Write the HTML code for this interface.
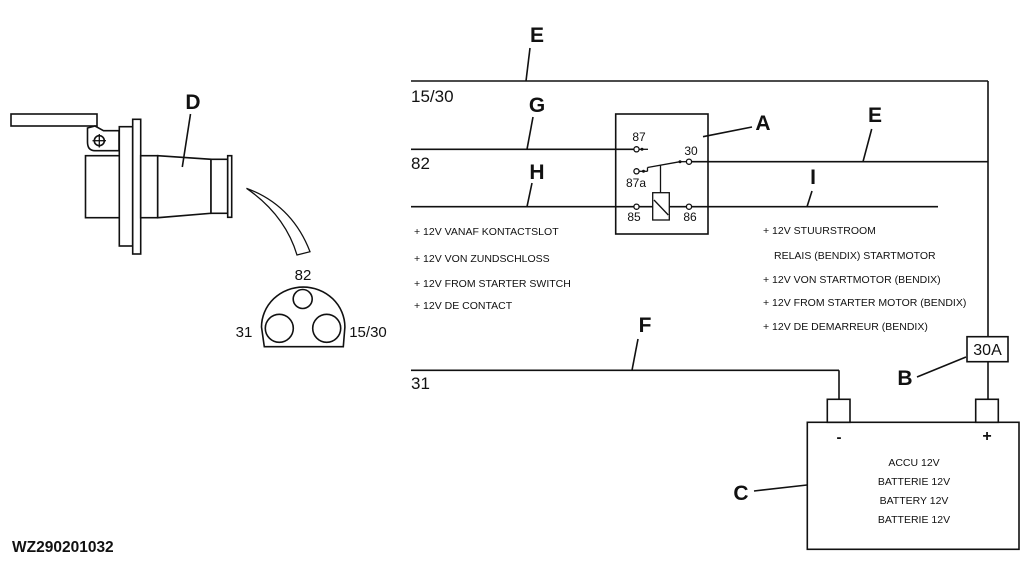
<!DOCTYPE html>
<html>
<head>
<meta charset="utf-8">
<style>
html,body{margin:0;padding:0;background:#fff;}
svg{display:block;}
text{font-family:"Liberation Sans",Arial,sans-serif;fill:#111;}
.lb{font-weight:bold;font-size:21px;}
.sm{font-size:10.5px;}
.md{font-size:12px;}
</style>
</head>
<body>
<svg width="1024" height="563" viewBox="0 0 1024 563" xmlns="http://www.w3.org/2000/svg">
<rect width="1024" height="563" fill="#fff"/>
<g stroke="#111" stroke-width="1.6" fill="none">
  <!-- connector drawing -->
  <rect x="11" y="114" width="86" height="12" fill="#fff"/>
  <path d="M87.5,128 L95,126 L103.5,130.7 L119,130.7 L119,150.7 L95,150.7 Q87.5,150.7 87.5,142 Z" fill="#fff"/>
  <circle cx="99.3" cy="140.7" r="5"/>
  <line x1="92.5" y1="140.7" x2="106" y2="140.7" stroke-width="1.3"/>
  <line x1="99.3" y1="134" x2="99.3" y2="147.5" stroke-width="1.3"/>
  <rect x="85.5" y="155.7" width="34" height="62" fill="#fff"/>
  <rect x="119.3" y="126.7" width="13.4" height="119.3" fill="#fff"/>
  <rect x="132.7" y="119.3" width="8" height="134.7" fill="#fff"/>
  <rect x="140.7" y="155.7" width="17" height="62" fill="#fff"/>
  <path d="M157.7,155.7 L211,159.3 L211,213.3 L157.7,217.7 Z" fill="#fff"/>
  <rect x="211" y="159.3" width="16.7" height="54" fill="#fff"/>
  <rect x="227.7" y="155.7" width="4" height="61.6" fill="#fff"/>
  <line x1="190.5" y1="114" x2="182.3" y2="167"/>
  <!-- curved arrow -->
  <path d="M246.5,188.3 Q292,205 310,251.7 L297,255 Q285,215 246.5,188.3 Z" stroke-width="1.3"/>
  <!-- plug face -->
  <path d="M264.3,346.7 L261.5,327 A41.7,40 0 0 1 344.9,327 L343.3,346.7 Z"/>
  <circle cx="302.7" cy="299" r="9.5"/>
  <circle cx="279.3" cy="328.3" r="14"/>
  <circle cx="326.7" cy="328.3" r="14"/>

  <!-- main wiring -->
  <line x1="411" y1="81" x2="988" y2="81"/>
  <line x1="988" y1="81" x2="988" y2="336.7"/>
  <line x1="988" y1="361.7" x2="988" y2="399.3"/>
  <rect x="967" y="336.7" width="41" height="25"/>
  <line x1="411" y1="149.3" x2="633.5" y2="149.3"/>
  <line x1="411" y1="206.7" x2="938" y2="206.7"/>
  <line x1="691.5" y1="161.7" x2="988" y2="161.7"/>
  <line x1="411" y1="370.3" x2="839" y2="370.3"/>
  <line x1="839" y1="370.3" x2="839" y2="399.3"/>

  <!-- relay -->
  <rect x="615.7" y="114" width="92.3" height="120"/>
  <line x1="639" y1="149.3" x2="648" y2="149.3" stroke-width="1.3"/>
  <line x1="639" y1="171.3" x2="647.5" y2="171.3" stroke-width="1.3"/>
  <line x1="647.5" y1="171.3" x2="647.5" y2="167.5" stroke-width="1.3"/>
  <line x1="647.5" y1="167.5" x2="680" y2="161.7" stroke-width="1.3"/>
  <line x1="680" y1="161.7" x2="686" y2="161.7" stroke-width="1.3"/>
  <line x1="660.5" y1="165.5" x2="660.5" y2="192.7" stroke-width="1.3"/>
  <rect x="652.7" y="192.7" width="16.6" height="27.3" fill="#fff" stroke-width="1.3"/>
  <line x1="654" y1="200" x2="668.3" y2="215" stroke-width="1.3"/>
  <g fill="#fff" stroke-width="1.3">
    <circle cx="636.5" cy="149.3" r="2.6"/>
    <circle cx="636.5" cy="171.3" r="2.6"/>
    <circle cx="689" cy="161.7" r="2.6"/>
    <circle cx="636.5" cy="206.7" r="2.6"/>
    <circle cx="689" cy="206.7" r="2.6"/>
  </g>

  <!-- leaders -->
  <line x1="530" y1="48" x2="526" y2="81"/>
  <line x1="533" y1="117" x2="527" y2="149.3"/>
  <line x1="532" y1="183" x2="527" y2="206.7"/>
  <line x1="703" y1="136.7" x2="752" y2="127"/>
  <line x1="871.7" y1="129" x2="863" y2="161.7"/>
  <line x1="812" y1="191" x2="807" y2="206.7"/>
  <line x1="638" y1="339" x2="632" y2="370.3"/>
  <line x1="917" y1="377" x2="966" y2="357"/>
  <line x1="754" y1="491" x2="807" y2="485"/>

  <!-- battery -->
  <rect x="827.3" y="399.3" width="22.7" height="23" fill="#fff"/>
  <rect x="975.7" y="399.3" width="22.6" height="23" fill="#fff"/>
  <rect x="807.3" y="422.3" width="211.7" height="127"/>
</g>
<g fill="#111">
  <circle cx="642" cy="149.3" r="1.5"/>
  <circle cx="643.5" cy="171.3" r="1.5"/>
  <circle cx="680" cy="161.7" r="1.5"/>
</g>

<!-- letter labels -->
<text class="lb" x="537" y="42" text-anchor="middle">E</text>
<text class="lb" x="537" y="112" text-anchor="middle">G</text>
<text class="lb" x="537" y="179" text-anchor="middle">H</text>
<text class="lb" x="763" y="130" text-anchor="middle">A</text>
<text class="lb" x="875" y="122" text-anchor="middle">E</text>
<text class="lb" x="813" y="184" text-anchor="middle">I</text>
<text class="lb" x="645" y="332" text-anchor="middle">F</text>
<text class="lb" x="905" y="385" text-anchor="middle">B</text>
<text class="lb" x="741" y="500" text-anchor="middle">C</text>
<text class="lb" x="193" y="109" text-anchor="middle">D</text>

<!-- wire labels -->
<text x="411" y="102" font-size="17">15/30</text>
<text x="411" y="169" font-size="17">82</text>
<text x="411" y="389" font-size="17">31</text>

<!-- connector labels -->
<text x="303" y="280" font-size="15" text-anchor="middle">82</text>
<text x="244" y="337" font-size="15" text-anchor="middle">31</text>
<text x="368" y="337" font-size="15" text-anchor="middle">15/30</text>

<!-- relay labels -->
<text class="md" x="639" y="141" text-anchor="middle">87</text>
<text class="md" x="691" y="155" text-anchor="middle">30</text>
<text class="md" x="636" y="187" text-anchor="middle">87a</text>
<text class="md" x="634" y="221" text-anchor="middle">85</text>
<text class="md" x="690" y="221" text-anchor="middle">86</text>

<!-- 30A -->
<text x="987.5" y="355" font-size="16" text-anchor="middle">30A</text>

<!-- left list -->
<text class="sm" x="414" y="235">+ 12V VANAF KONTACTSLOT</text>
<text class="sm" x="414" y="262">+ 12V VON ZUNDSCHLOSS</text>
<text class="sm" x="414" y="287">+ 12V FROM STARTER SWITCH</text>
<text class="sm" x="414" y="309">+ 12V DE CONTACT</text>

<!-- right list -->
<text class="sm" x="763" y="234">+ 12V STUURSTROOM</text>
<text class="sm" x="774" y="259">RELAIS (BENDIX) STARTMOTOR</text>
<text class="sm" x="763" y="283">+ 12V VON STARTMOTOR (BENDIX)</text>
<text class="sm" x="763" y="306">+ 12V FROM STARTER MOTOR (BENDIX)</text>
<text class="sm" x="763" y="330">+ 12V DE DEMARREUR (BENDIX)</text>

<!-- battery -->
<text x="839" y="442" font-size="15" font-weight="bold" text-anchor="middle">-</text>
<text x="987" y="441" font-size="16" font-weight="bold" text-anchor="middle">+</text>
<text class="sm" x="914" y="466" text-anchor="middle">ACCU 12V</text>
<text class="sm" x="914" y="485" text-anchor="middle">BATTERIE 12V</text>
<text class="sm" x="914" y="504" text-anchor="middle">BATTERY 12V</text>
<text class="sm" x="914" y="523" text-anchor="middle">BATTERIE 12V</text>

<text x="12" y="552" font-size="15.5" font-weight="bold">WZ290201032</text>
</svg>
</body>
</html>
